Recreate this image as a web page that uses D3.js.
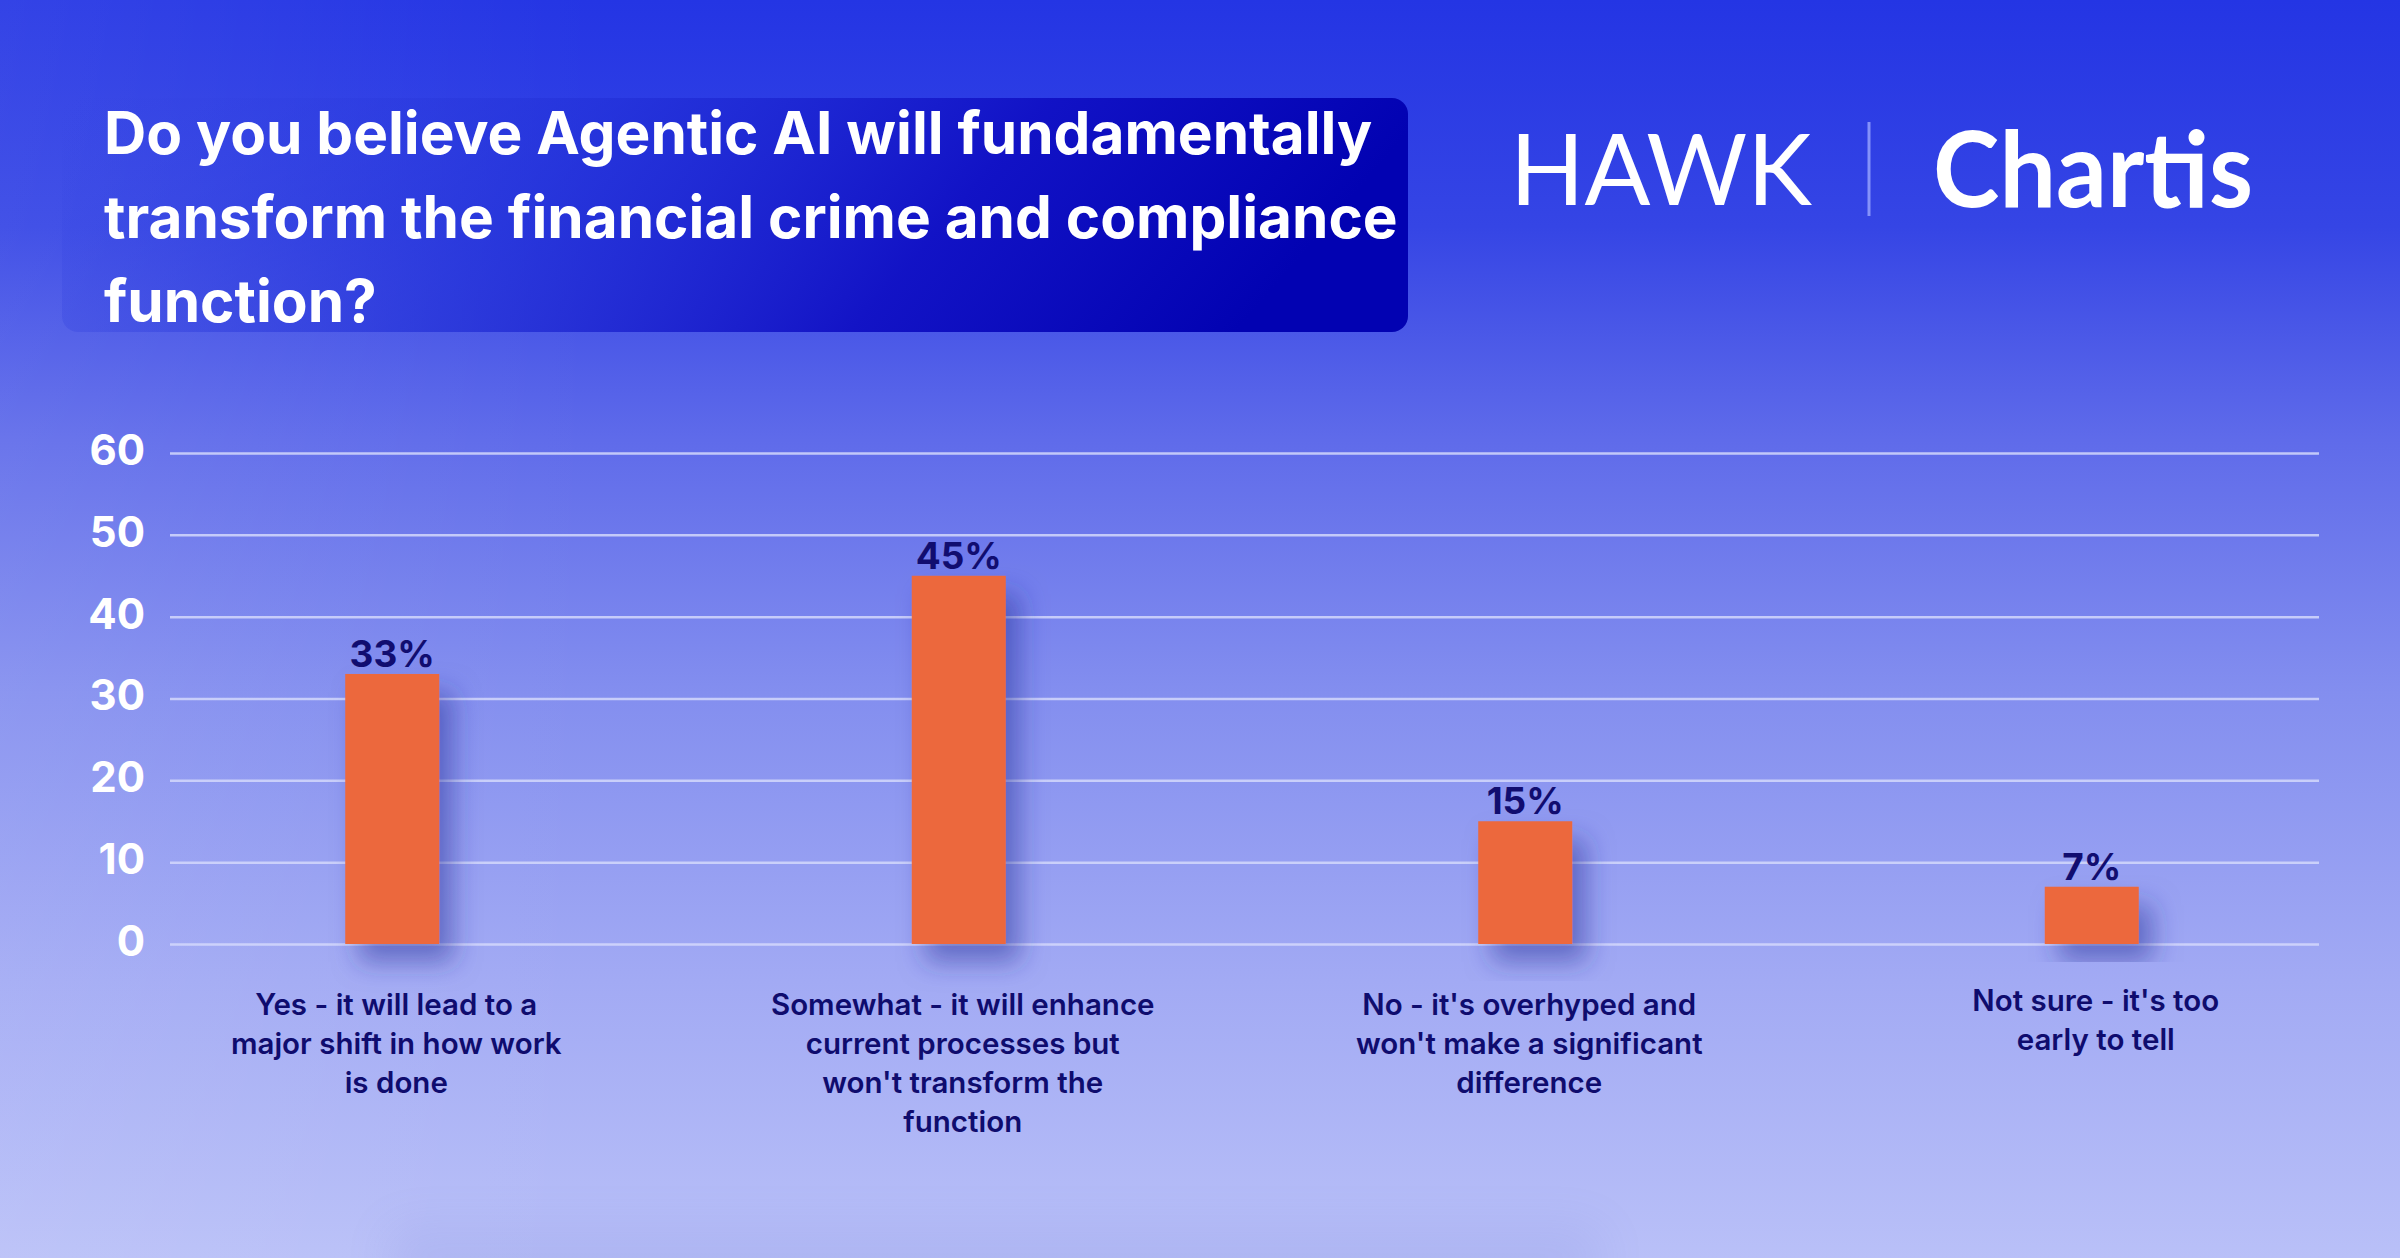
<!DOCTYPE html>
<html>
<head>
<meta charset="utf-8">
<script src="https://cdn.jsdelivr.net/npm/d3@7"></script>
<style>
  html, body { margin: 0; padding: 0; background: #6470ea; }
  svg { display: block; }
</style>
</head>
<body>
<svg id="chart" width="2400" height="1258"></svg>
<script>
// ---- Data ----
const titleLines = [
  "Do you believe Agentic AI will fundamentally",
  "transform the financial crime and compliance",
  "function?"
];
const categories = [
  "Yes - it will lead to a major shift in how work is done",
  "Somewhat - it will enhance current processes but won't transform the function",
  "No - it's overhyped and won't make a significant difference",
  "Not sure - it's too early to tell"
];
const categoryLines = [
  ["Yes - it will lead to a", "major shift in how work", "is done"],
  ["Somewhat - it will enhance", "current processes but", "won't transform the", "function"],
  ["No - it's overhyped and", "won't make a significant", "difference"],
  ["Not sure - it's too", "early to tell"]
];
const values = [33, 45, 15, 7];
const valueLabels = ["33%", "45%", "15%", "7%"];
const yTicks = [0, 10, 20, 30, 40, 50, 60];
const brandLeft = "HAWK";
const brandRight = "Chartis";

// ---- Setup ----
const W = 2400, H = 1258;
const svg = d3.select("#chart");
const defs = svg.append("defs");

const bg = defs.append("linearGradient").attr("id", "bg")
  .attr("x1", 0).attr("y1", 0).attr("x2", 0).attr("y2", 1);
[[0, "#2435e4"], [0.18, "#3545e5"], [0.35, "#5f6bea"], [0.55, "#838eef"], [0.78, "#a2aaf4"], [1, "#b9c0f8"]]
  .forEach(([o, c]) => bg.append("stop").attr("offset", o).attr("stop-color", c));

const bgLeft = defs.append("linearGradient").attr("id", "bgLeft")
  .attr("x1", 0).attr("y1", 0).attr("x2", 1).attr("y2", 0);
bgLeft.append("stop").attr("offset", 0).attr("stop-color", "#ffffff").attr("stop-opacity", 0.07);
bgLeft.append("stop").attr("offset", 0.25).attr("stop-color", "#ffffff").attr("stop-opacity", 0.0);

const tb = defs.append("linearGradient").attr("id", "titlebox")
  .attr("x1", 0).attr("y1", 0).attr("x2", 1).attr("y2", 0.15);
[[0, "#3444e0", 0], [0.1, "#3040e0", 0.2], [0.4, "#2230d8", 0.7], [0.72, "#1010c4", 0.95], [1, "#0202b2", 1]]
  .forEach(([o, c, a]) => tb.append("stop").attr("offset", o).attr("stop-color", c).attr("stop-opacity", a));

const shadow = defs.append("filter").attr("id", "barShadow")
  .attr("x", "-50%").attr("y", "-20%").attr("width", "200%").attr("height", "150%");
shadow.append("feDropShadow").attr("dx", 14).attr("dy", 18).attr("stdDeviation", 13)
  .attr("flood-color", "#2a2f9a").attr("flood-opacity", 0.5);

const blur = defs.append("filter").attr("id", "softBlur")
  .attr("x", "-20%").attr("y", "-100%").attr("width", "140%").attr("height", "300%");
blur.append("feGaussianBlur").attr("stdDeviation", 25);

svg.append("rect").attr("width", W).attr("height", H).attr("fill", "url(#bg)");
svg.append("rect").attr("width", W).attr("height", H).attr("fill", "url(#bgLeft)");
// faint shadow near the bottom
svg.append("rect").attr("x", 390).attr("y", 1228).attr("width", 1210).attr("height", 60)
  .attr("fill", "#4a55c0").attr("opacity", 0.1).attr("filter", "url(#softBlur)");

// ---- Title box ----
svg.append("rect").attr("x", 62).attr("y", 98).attr("width", 1346).attr("height", 234)
  .attr("rx", 16).attr("fill", "url(#titlebox)");
svg.append("g").selectAll("text").data(titleLines).join("text")
  .attr("x", 104).attr("y", (d, i) => 154 + i * 84)
  .attr("fill", "#ffffff")
  .attr("font-family", "Inter, 'Noto Sans', sans-serif")
  .attr("font-weight", 700).attr("font-size", 58.5)
  .text(d => d);

// ---- Brand ----
svg.append("text").attr("x", 1510).attr("y", 205)
  .attr("fill", "#ffffff").attr("font-family", "Lato, 'Open Sans', sans-serif")
  .attr("font-weight", 400).attr("font-size", 98)
  .attr("textLength", 302).attr("lengthAdjust", "spacingAndGlyphs")
  .text(brandLeft);
svg.append("line").attr("x1", 1869).attr("x2", 1869).attr("y1", 122).attr("y2", 216)
  .attr("stroke", "#9aa6ff").attr("stroke-opacity", 0.8).attr("stroke-width", 3);
svg.append("text").attr("x", 1933).attr("y", 207)
  .attr("fill", "#ffffff").attr("font-family", "Lato, 'Open Sans', sans-serif")
  .attr("font-weight", 700).attr("font-size", 106)
  .attr("textLength", 320).attr("lengthAdjust", "spacingAndGlyphs")
  .text(brandRight);

// ---- Scales ----
const plotLeft = 170, plotRight = 2319;
const y = d3.scaleLinear().domain([0, 60]).range([944, 453]);
const x = d3.scaleBand().domain(categories).range([109, 2375])
  .paddingInner(0.834).paddingOuter(0.417);

// ---- Y axis + grid ----
const yAxis = d3.axisLeft(y).tickValues(yTicks).tickSize(-(plotRight - plotLeft)).tickPadding(25)
  .tickFormat(d3.format("d"));
const gy = svg.append("g").attr("transform", `translate(${plotLeft},0)`).call(yAxis);
gy.select(".domain").remove();
gy.selectAll(".tick line").attr("stroke", "#d4d8fb").attr("stroke-opacity", 0.85).attr("stroke-width", 2.5);
gy.selectAll(".tick text")
  .attr("fill", "#ffffff").attr("font-family", "Inter, 'Noto Sans', sans-serif")
  .attr("font-weight", 700).attr("font-size", 42).attr("dy", "0.27em");

// ---- Bars ----
svg.append("g").selectAll("rect").data(values).join("rect")
  .attr("x", (d, i) => x(categories[i]))
  .attr("width", x.bandwidth())
  .attr("y", d => y(d))
  .attr("height", d => y(0) - y(d))
  .attr("fill", "#ec683c")
  .attr("filter", "url(#barShadow)");

// value labels
svg.append("g").selectAll("text").data(values).join("text")
  .attr("x", (d, i) => x(categories[i]) + x.bandwidth() / 2)
  .attr("y", d => y(d) - 7)
  .attr("text-anchor", "middle")
  .attr("fill", "#110d70")
  .attr("font-family", "Inter, 'Noto Sans', sans-serif")
  .attr("font-weight", 700).attr("font-size", 37)
  .text((d, i) => valueLabels[i]);

// category labels
const catG = svg.append("g").selectAll("text").data(categories).join("text")
  .attr("text-anchor", "middle")
  .attr("fill", "#0f0c6e")
  .attr("font-family", "Inter, 'Noto Sans', sans-serif")
  .attr("font-weight", 600).attr("font-size", 29.5)
  .attr("transform", (d, i) => `translate(${x(d) + x.bandwidth() / 2 + 4},${i === 3 ? 1011 : 1015})`);
catG.selectAll("tspan").data((d, i) => categoryLines[i]).join("tspan")
  .attr("x", 0).attr("y", (d, j) => j * 39)
  .text(d => d);
</script>
</body>
</html>
